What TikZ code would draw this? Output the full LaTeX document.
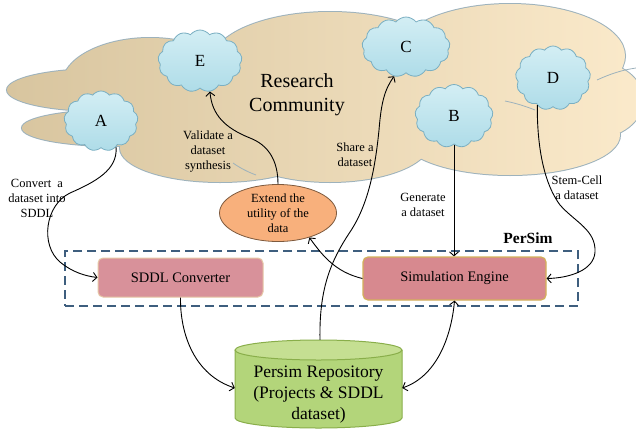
\documentclass[tikz,border=0pt]{standalone}
\usepackage{fontspec}
\setmainfont{Liberation Serif}
\usetikzlibrary{shapes.symbols,shapes.geometric,arrows.meta,calc}
\definecolor{cyanT}{HTML}{D3EEF4}
\definecolor{cyanB}{HTML}{AEDCE8}
\definecolor{cyanBorder}{HTML}{7AAFC2}
\definecolor{tanL}{HTML}{D8C59F}
\definecolor{tanM}{HTML}{F1DFBC}
\definecolor{tanR}{HTML}{FBEACB}
\definecolor{bigBorder}{HTML}{9DB2BC}
\definecolor{extF}{HTML}{F8B07C}
\definecolor{extB}{HTML}{7E5A3E}
\definecolor{sddlF}{HTML}{D8919A}
\definecolor{sddlB}{HTML}{E6C7A6}
\definecolor{simF}{HTML}{D7898F}
\definecolor{simB}{HTML}{D3B15A}
\definecolor{cylF}{HTML}{B3D57A}
\definecolor{cylT}{HTML}{C5DF92}
\definecolor{cylB}{HTML}{89AE4A}
\definecolor{dashC}{HTML}{3E5E7E}
\tikzset{
  smallcloud/.style={cloud, cloud puffs=13, cloud puff arc=105, aspect=1.25,
    draw=cyanBorder, line width=0.8pt, top color=cyanT, bottom color=cyanB,
    inner sep=0pt, font=\fontsize{17}{20}\selectfont},
  lbl/.style={align=center, font=\fontsize{12.5}{15}\selectfont, inner sep=0pt},
  boxtext/.style={font=\fontsize{14.5}{17}\selectfont},
  arr/.style={-{Straight Barb[length=4pt,width=9pt]}, line width=0.9pt, black},
  dblarr/.style={{Straight Barb[length=4pt,width=9pt]}-{Straight Barb[length=4pt,width=9pt]}, line width=0.9pt, black},
}
\newcommand{\bigcloudpath}{
  (100,90) ellipse [x radius=93, y radius=21]
  (115,128) ellipse [x radius=93, y radius=18]
  (220,148) ellipse [x radius=100, y radius=34]
  (330,142) ellipse [x radius=100, y radius=40]
  (510,135) ellipse [x radius=110, y radius=40]
  (150,85) ellipse [x radius=88, y radius=47]
  (330,62) ellipse [x radius=118, y radius=50]
  (510,56) ellipse [x radius=115, y radius=52]
  (595,100) ellipse [x radius=48, y radius=38]
  (330,105) ellipse [x radius=230, y radius=55]
}
\begin{document}
\begin{tikzpicture}[x=1pt,y=-1pt]
\useasboundingbox (0,0) rectangle (636,434);
\fill[white] (0,0) rectangle (636,434);
% big cloud
\draw[line width=2pt, draw=bigBorder] \bigcloudpath;
\shade[left color=tanL, middle color=tanM, right color=tanR] \bigcloudpath;
\draw[bigBorder, line width=0.8pt] (233,163) .. controls (240,168) and (248,172) .. (256,175);
\draw[bigBorder, line width=0.8pt] (505,101) .. controls (515,103) and (525,106) .. (535,110);
\draw[bigBorder, line width=0.8pt] (597,80) .. controls (610,74) and (622,70) .. (636,68);
\node[align=center, font=\fontsize{20}{24}\selectfont] (rc) at (297,95) {Research\\Community};

% small clouds
\node[smallcloud, minimum width=74pt, minimum height=60pt] (A) at (101,121) {A};
\node[smallcloud, minimum width=84pt, minimum height=62pt] (E) at (200,61) {E};
\node[smallcloud, minimum width=88pt, minimum height=60pt] (C) at (406,47) {C};
\node[smallcloud, minimum width=78pt, minimum height=63pt] (B) at (454,116) {B};
\node[smallcloud, minimum width=75pt, minimum height=64pt] (D) at (553,78) {D};

% ellipse
\node[ellipse, draw=extB, fill=extF, line width=0.8pt, minimum width=117pt,
  minimum height=57pt, inner sep=0pt, lbl] (ext) at (278,213) {Extend the\\utility of the\\data};

% PerSim dashed box
\node[draw=dashC, line width=1.3pt, dash pattern=on 9pt off 5pt,
  minimum width=513pt, minimum height=55pt, inner sep=0pt] (persim) at (321.5,278.5) {};
\node[font=\fontsize{15.5}{18}\selectfont\bfseries] (persimlbl) at (528,238) {PerSim};

% boxes
\node[draw=sddlB, fill=sddlF, line width=1pt, rounded corners=5pt,
  minimum width=165pt, minimum height=39pt, boxtext] (sddl) at (180.5,277.5) {SDDL Converter};
\node[draw=simB, fill=simF, line width=1.2pt, rounded corners=5pt,
  minimum width=183pt, minimum height=43pt, boxtext] (sim) at (454.5,278.5) {Simulation Engine};

% cylinder
\path[fill=cylF, draw=cylB, line width=1pt] (235,350) -- (235,418)
  arc[start angle=180, end angle=0, x radius=83.5, y radius=10] -- (402,350);
\draw[fill=cylT, draw=cylB, line width=1pt] (318.5,350) ellipse [x radius=83.5, y radius=10];
\node[align=center, font=\fontsize{17.5}{21}\selectfont, minimum width=167pt,
  minimum height=70pt, inner sep=0pt] (repo) at (318.5,395) {Persim Repository\\(Projects \& SDDL\\dataset)};

% labels
\node[lbl] (l1) at (37,198) {Convert\ \ a\\dataset into\\SDDL};
\node[lbl] (l2) at (208,152) {Validate a\\dataset\\synthesis};
\node[lbl] (l3) at (355,155) {Share a\\dataset};
\node[lbl] (l4) at (423,205) {Generate\\a dataset};
\node[lbl] (l5) at (577,188) {Stem-Cell\\a dataset};

% connectors
\draw[arr] (A.-60) .. controls (118,170) and (95,182) .. (70,193)
  .. controls (45,205) and (40,245) .. (60,262)
  .. controls (72,272) and (85,276) .. (sddl.west);
\draw[arr] (ext.north) .. controls (278,160) and (268,145) .. (250,138)
  .. controls (225,128) and (212,115) .. (E.-72);
\draw[arr] (sim.west) .. controls (335,272) and (322,255) .. (ext.-38);
\draw[arr] ($(repo.north)+(1.5,-20)$) .. controls (319,290) and (330,262) .. (350,232)
  .. controls (368,205) and (375,170) .. (379,130)
  .. controls (381,105) and (384,90) .. (C.-112);
\draw[arr] (B.south) -- (B.south |- sim.north);
\draw[arr] (D.-120) .. controls (537,150) and (545,185) .. (560,205)
  .. controls (575,222) and (596,230) .. (595,252)
  .. controls (594,270) and (570,278) .. (sim.east);
\draw[arr] (sddl.south) .. controls (180,335) and (195,375) .. ($(repo.west)+(0,-7)$);
\draw[dblarr] (sim.south) .. controls (452,330) and (440,375) .. ($(repo.east)+(0,-7)$);
\end{tikzpicture}
\end{document}
